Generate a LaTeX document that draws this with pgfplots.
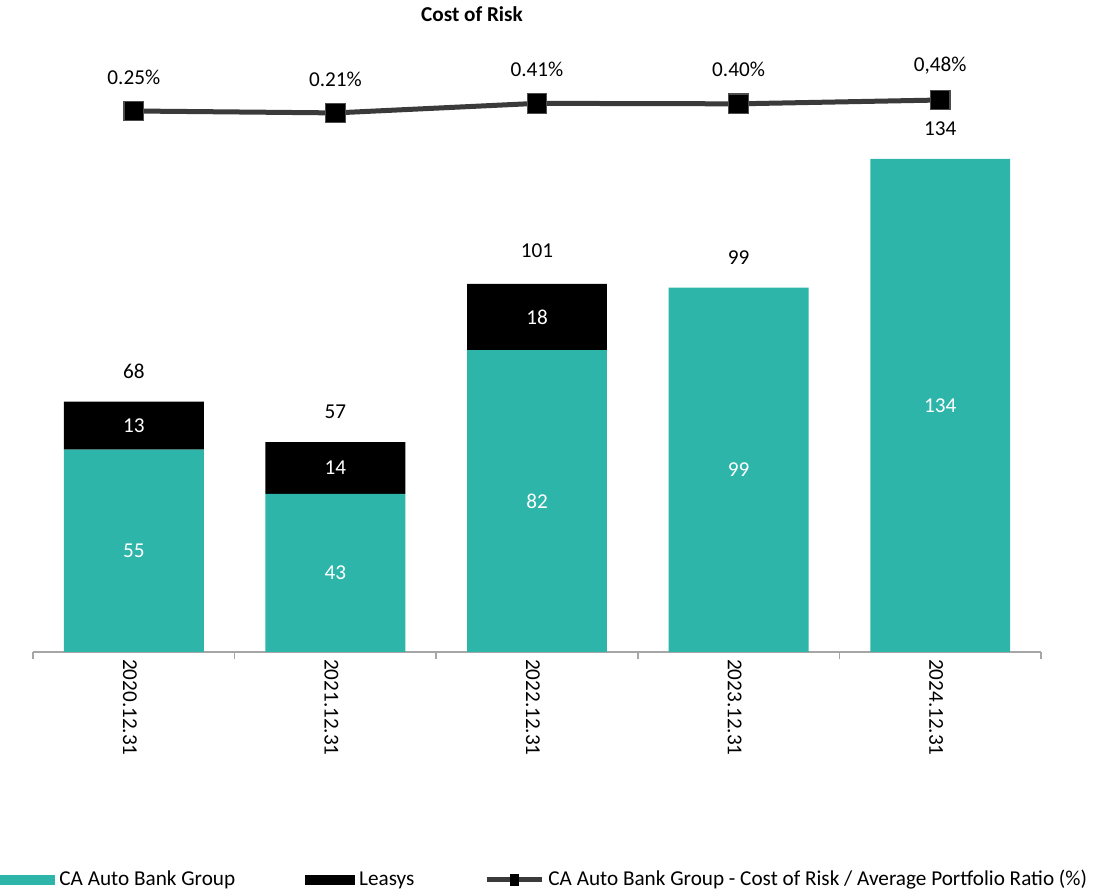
\documentclass[border=0pt]{standalone}
\usepackage{fontspec}
\setmainfont{Carlito}
\usepackage{pgfplots}
\pgfplotsset{compat=1.18}
\definecolor{cateal}{HTML}{2DB5A9}
\definecolor{linegray}{HTML}{3A3A3A}
\definecolor{axgray}{HTML}{A6A6A6}
\newcommand{\fs}{\fontsize{10.6}{12.5}\selectfont}
\begin{document}
\begin{tikzpicture}
\pgfplotsset{every axis/.append style={scale only axis, width=504pt, height=306pt, xmin=-0.5, xmax=4.5, clip=false}}
\begin{axis}[
  name=main,
  ymin=0, ymax=166.3,
  ybar stacked, bar width=0.694,
  axis x line*=bottom, axis y line=none,
  x axis line style={axgray, line width=0.75pt, -},
  xtick={0,1,2,3,4},
  xticklabels={2020.12.31,2021.12.31,2022.12.31,2023.12.31,2024.12.31},
  major tick length=0pt,
  extra x ticks={-0.5,0.5,1.5,2.5,3.5,4.5},
  extra x tick labels={},
  extra x tick style={major tick length=3.5pt, tick align=outside, tick style={axgray, line width=0.75pt}},
  xticklabel style={rotate=-90, anchor=west, font=\fs, yshift=-2pt},
  title={Cost of Risk},
  title style={at={(axis description cs:0.4355,1.0227)}, anchor=center, font=\fs\bfseries},
  legend columns=3,
  legend style={draw=none, fill=none, at={(axis description cs:-0.0327,-0.3725)}, anchor=west, inner sep=0pt, font=\fs, cells={anchor=west}, nodes={text height=1.7ex, text depth=0.5ex}, /tikz/every even column/.append style={column sep=33pt}},
]
\addplot[fill=cateal, draw=none, legend image code/.code={\fill[cateal] (0pt,-2.5pt) rectangle (27.5pt,2.5pt);}]
  coordinates {(0,55) (1,43) (2,82) (3,99) (4,134)};
\addlegendentry{CA Auto Bank Group}
\addplot[fill=black, draw=none, legend image code/.code={\fill[black] (0pt,-2.5pt) rectangle (25pt,2.5pt);}]
  coordinates {(0,13) (1,14) (2,18) (3,0) (4,0)};
\addlegendentry{Leasys}
\addlegendimage{legend image code/.code={\draw[linegray, line width=2.5pt] (0pt,0pt) -- (27.5pt,0pt); \fill[black] (11.5pt,-2.75pt) rectangle (15.5pt,2.75pt);}}
\addlegendentry{CA Auto Bank Group - Cost of Risk / Average Portfolio Ratio (\%)}
\end{axis}
\begin{axis}[hide axis, ymin=0, ymax=166.3]
\addplot[only marks, mark=none, nodes near coords, point meta=explicit symbolic,
  every node near coord/.append style={anchor=center, white, font=\fs}]
  coordinates {(0,27.5)[55] (1,21.5)[43] (2,41)[82] (3,49.5)[99] (4,67)[134]
               (0,61.5)[13] (1,50)[14] (2,91)[18]};
\addplot[only marks, mark=none, nodes near coords, point meta=explicit symbolic,
  every node near coord/.append style={anchor=center, black, yshift=15pt, font=\fs}]
  coordinates {(0,68)[68] (1,57)[57] (2,101)[101] (3,99)[99] (4,134)[134]};
\end{axis}
\begin{axis}[hide axis, ymin=-11.07, ymax=1.736]
\addplot[linegray, line width=2.5pt, mark=square*, mark size=4.9pt,
  mark options={fill=black, draw=gray!60!black, line width=0.6pt},
  nodes near coords, point meta=explicit symbolic,
  every node near coord/.append style={anchor=center, black, yshift=17pt, font=\fs}]
  coordinates {(0,0.25)[0.25\%] (1,0.21)[0.21\%] (2,0.41)[0.41\%] (3,0.40)[0.40\%] (4,0.48)[0,48\%]};
\end{axis}
\pgfresetboundingbox
\path[use as bounding box] (-16.5pt,-120pt) rectangle (531pt,326pt);
\end{tikzpicture}
\end{document}
